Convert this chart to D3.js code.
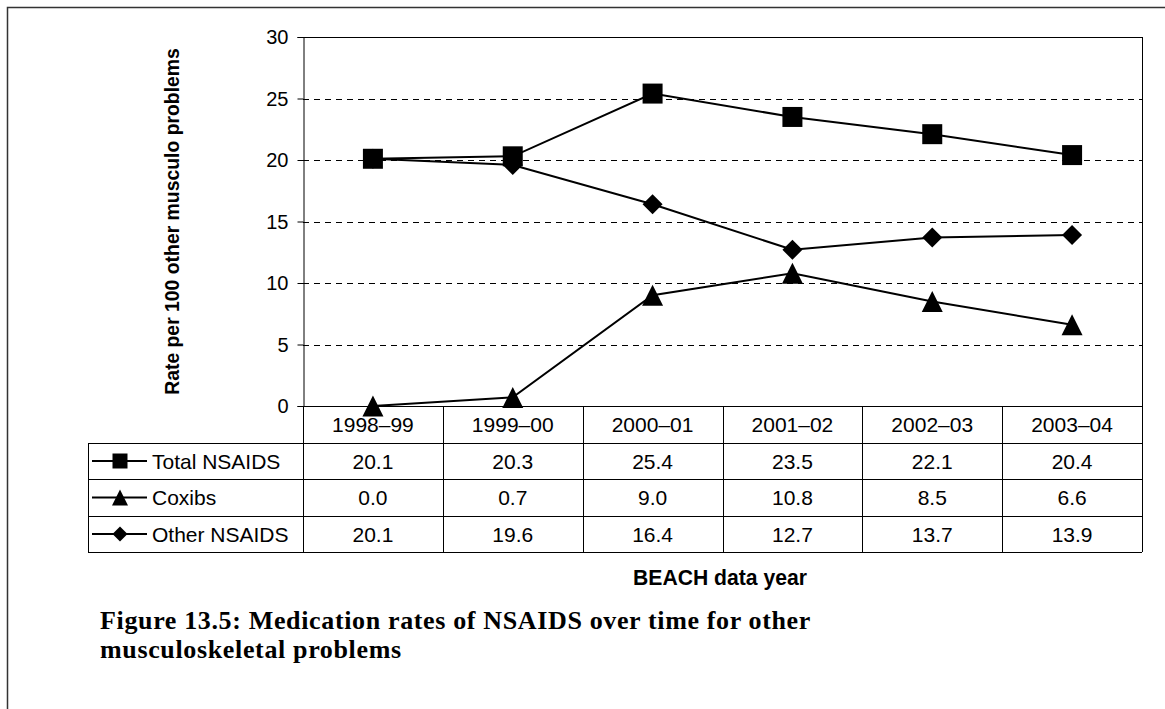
<!DOCTYPE html>
<html><head><meta charset="utf-8">
<script src="https://cdn.jsdelivr.net/npm/d3@7"></script>
<style>body{margin:0;background:#fff}svg{display:block}</style>
</head><body>
<svg id="c" width="1165" height="709"></svg>
<script>
const years = ["1998–99","1999–00","2000–01","2001–02","2002–03","2003–04"];
const totalNSAIDS = [20.1,20.3,25.4,23.5,22.1,20.4];
const coxibs = [0.0,0.7,9.0,10.8,8.5,6.6];
const otherNSAIDS = [20.1,19.6,16.4,12.7,13.7,13.9];
const yTicks = [0,5,10,15,20,25,30];
const seriesNames = ["Total NSAIDS","Coxibs","Other NSAIDS"];

const series = [
  {name: seriesNames[0], values: totalNSAIDS, sym: "square"},
  {name: seriesNames[1], values: coxibs, sym: "triangle"},
  {name: seriesNames[2], values: otherNSAIDS, sym: "diamond"}
];

const SANS = "Liberation Sans, Arial, sans-serif";
const svg = d3.select("#c");
const L = 303, R = 1142, T = 37, B = 406;
const tableLeft = 88;

function fitSize(sel, target){
  const w = sel.node().getComputedTextLength();
  const fs = parseFloat(sel.attr("font-size"));
  sel.attr("font-size", fs*target/w);
}
function fitSpacing(sel, target){
  const w = sel.node().getComputedTextLength();
  const n = sel.text().length;
  const ls = (target - w)/n;
  sel.attr("letter-spacing", ls);
  return ls;
}

function markerPath(type, s){
  const h = s/2;
  if (type==="square") return `M${-h},${-h}H${h}V${h}H${-h}Z`;
  if (type==="triangle") return `M0,${-h}L${h},${h}L${-h},${h}Z`;
  return `M0,${-h}L${h},0L0,${h}L${-h},0Z`;
}
const markSize = {square: 20, triangle: 21, diamond: 20};
const legSize = {square: 15, triangle: 16, diamond: 15};

// outer frame
svg.append("path").attr("d","M7.5,709 L7.5,7.5 L1165,7.5").attr("fill","none").attr("stroke","#333").attr("stroke-width",1.5);

const x = d3.scaleBand().domain(years).range([L,R]);
const y = d3.scaleLinear().domain([0,30]).range([B,T]);

// gridlines
svg.append("g").selectAll("line").data(yTicks.filter(t=>t>0&&t<30)).join("line")
  .attr("x1",L).attr("x2",R).attr("y1",d=>Math.round(y(d))+0.5).attr("y2",d=>Math.round(y(d))+0.5)
  .attr("stroke","#000").attr("stroke-dasharray","6,5");
svg.append("line").attr("x1",L).attr("x2",R).attr("y1",T+0.5).attr("y2",T+0.5).attr("stroke","#000");
svg.append("line").attr("x1",R+0.5).attr("x2",R+0.5).attr("y1",T).attr("y2",B).attr("stroke","#000");

// y axis
const yAxis = d3.axisLeft(y).tickValues(yTicks).tickSize(6).tickPadding(9);
const ga = svg.append("g").attr("transform",`translate(${L+0.5},0)`).call(yAxis);
ga.select(".domain").attr("stroke","#000");
ga.selectAll("line").attr("stroke","#000");
ga.selectAll("text").attr("font-family",SANS).attr("font-size",20).attr("fill","#000").attr("dy","0.34em");

// y label
const yl = svg.append("text").attr("transform",`translate(179,${(T+B)/2}) rotate(-90)`)
  .attr("text-anchor","middle").attr("font-family",SANS).attr("font-weight","bold")
  .attr("font-size",19).text("Rate per 100 other musculo problems");
fitSize(yl, 347);

// table
const rowY = [B, 443, 479, 516, 552];
const tg = svg.append("g");
tg.append("line").attr("x1",L).attr("x2",R).attr("y1",B+0.5).attr("y2",B+0.5).attr("stroke","#000");
for (let i=1;i<5;i++){
  tg.append("line").attr("x1",tableLeft).attr("x2",R).attr("y1",rowY[i]+0.5).attr("y2",rowY[i]+0.5).attr("stroke","#000");
}
const colEdges = years.map(d=>x(d)).concat([R]);
colEdges.forEach(cx=>{
  tg.append("line").attr("x1",Math.round(cx)+0.5).attr("x2",Math.round(cx)+0.5).attr("y1",B).attr("y2",rowY[4]).attr("stroke","#000");
});
tg.append("line").attr("x1",tableLeft+0.5).attr("x2",tableLeft+0.5).attr("y1",rowY[1]).attr("y2",rowY[4]).attr("stroke","#000");

tg.selectAll("text.hdr").data(years).join("text").attr("class","hdr")
  .attr("x",d=>x(d)+x.bandwidth()/2).attr("y",(rowY[0]+rowY[1])/2+7.5)
  .attr("text-anchor","middle").attr("font-family",SANS).attr("font-size",21).text(d=>d);

series.forEach((s,i)=>{
  const cy = (rowY[i+1]+rowY[i+2])/2;
  tg.selectAll(null).data(s.values).join("text")
    .attr("x",(d,j)=>x(years[j])+x.bandwidth()/2).attr("y",cy+7.5)
    .attr("text-anchor","middle").attr("font-family",SANS).attr("font-size",21)
    .text(d=>d.toFixed(1));
  tg.append("line").attr("x1",92).attr("x2",147).attr("y1",cy).attr("y2",cy).attr("stroke","#000").attr("stroke-width",2);
  tg.append("path").attr("d",markerPath(s.sym, legSize[s.sym])).attr("transform",`translate(120,${cy})`).attr("fill","#000");
  tg.append("text").attr("x",152).attr("y",cy+7.5).attr("font-family",SANS).attr("font-size",21).text(s.name);
});

// lines and markers
const line = d3.line().x((d,j)=>x(years[j])+x.bandwidth()/2).y(d=>y(d));
series.forEach(s=>{
  svg.append("path").attr("d",line(s.values)).attr("fill","none").attr("stroke","#000").attr("stroke-width",2);
  svg.selectAll(null).data(s.values).join("path")
    .attr("d",markerPath(s.sym, markSize[s.sym]))
    .attr("transform",(d,j)=>`translate(${x(years[j])+x.bandwidth()/2},${y(d)})`)
    .attr("fill","#000");
});

// x title
const xt = svg.append("text").attr("x",720).attr("y",585).attr("text-anchor","middle")
  .attr("font-family",SANS).attr("font-weight","bold").attr("font-size",20).text("BEACH data year");
fitSize(xt, 174);

// caption
const CAPFONT = "Liberation Serif, Times New Roman, serif";
const cap1 = svg.append("text").attr("x",100).attr("y",629).attr("font-family",CAPFONT).attr("font-weight","bold").attr("font-size",26)
  .text("Figure 13.5: Medication rates of NSAIDS over time for other");
const ls = fitSpacing(cap1, 711);
svg.append("text").attr("x",100).attr("y",658).attr("font-family",CAPFONT).attr("font-weight","bold").attr("font-size",26)
  .attr("letter-spacing", ls).text("musculoskeletal problems");
</script>
</body></html>
